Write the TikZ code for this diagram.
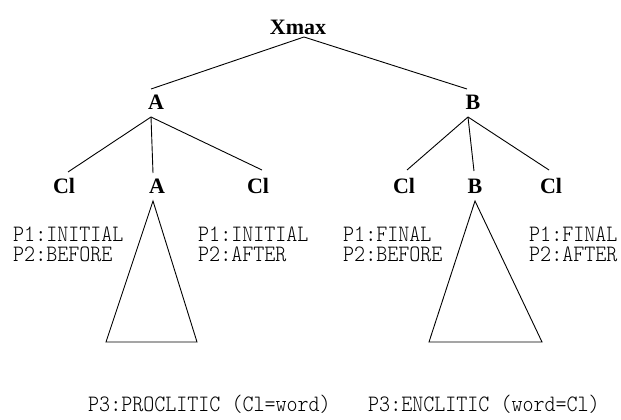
\documentclass[tikz,border=0pt]{standalone}
\usepackage{graphicx}
\usepackage{fontspec}
\setmainfont{Liberation Serif}
\newfontfamily\notefont{lmmonolt10-regular.otf}
\newcommand\tallnote[1]{\scalebox{1}[1.12]{#1}}
\newcommand\twolines[2]{\tallnote{\begin{tabular}[t]{@{}l@{}}#1\\#2\end{tabular}}}
\begin{document}
\begin{tikzpicture}[x=1pt,y=-1pt,
  lab/.style={font=\fontsize{22}{22}\selectfont\bfseries, inner sep=0pt, anchor=base},
  note/.style={font=\fontsize{21}{17}\notefont, inner sep=0pt, anchor=base west},
  edge/.style={draw=black, line width=0.9pt}]
\useasboundingbox (0,0) rectangle (621,420);
% labels
\node[lab] (xmax) at (298,35) {Xmax};
\node[lab] (A) at (156,110) {A};
\node[lab] (B) at (473,110) {B};
\node[lab] (cl1) at (64,193) {Cl};
\node[lab] (A2) at (157,193) {A};
\node[lab] (cl2) at (258,193) {Cl};
\node[lab] (cl3) at (404,193) {Cl};
\node[lab] (B2) at (475,193) {B};
\node[lab] (cl4) at (551,193) {Cl};
% attachment points
\coordinate (xb) at (304,37);
\coordinate (At) at (151,89);
\coordinate (Bt) at (467,89);
\coordinate (Ab) at (151,117);
\coordinate (Bb) at (468,117);
\coordinate (cl1t) at (68,172);
\coordinate (A2t) at (153,173);
\coordinate (cl2t) at (262,170);
\coordinate (cl3t) at (407,170);
\coordinate (B2t) at (474,171);
\coordinate (cl4t) at (549,170);
\coordinate (ta) at (153,201);
\coordinate (tal) at (106,342);
\coordinate (tar) at (197,342);
\coordinate (tb) at (475,201);
\coordinate (tbl) at (429,342);
\coordinate (tbr) at (542,342);
% edges
\draw[edge] (At) -- (xb) -- (Bt);
\draw[edge] (Ab) -- (cl1t);
\draw[edge] (Ab) -- (A2t);
\draw[edge] (Ab) -- (cl2t);
\draw[edge] (Bb) -- (cl3t);
\draw[edge] (Bb) -- (B2t);
\draw[edge] (Bb) -- (cl4t);
\draw[edge] (ta) -- (tal) -- (tar) -- cycle;
\draw[edge] (tb) -- (tbl) -- (tbr) -- cycle;
% notes
\node[note] (n1) at (13,241) {\twolines{P1:INITIAL}{P2:BEFORE}};
\node[note] (n3) at (198,241) {\twolines{P1:INITIAL}{P2:AFTER}};
\node[note] (n5) at (343,241) {\twolines{P1:FINAL}{P2:BEFORE}};
\node[note] (n7) at (529,241) {\twolines{P1:FINAL}{P2:AFTER}};
\node[note] (p3a) at (88,411) {\tallnote{P3:PROCLITIC (Cl=word)}};
\node[note] (p3b) at (368,411) {\tallnote{P3:ENCLITIC (word=Cl)}};
\end{tikzpicture}
\end{document}
